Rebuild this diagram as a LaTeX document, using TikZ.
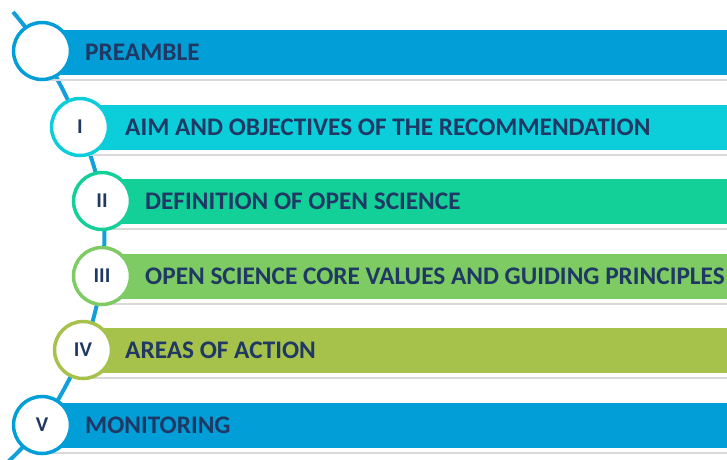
\documentclass[tikz,border=0pt]{standalone}
\usepackage{fontspec}
\setmainfont{Carlito}
\usepackage{xcolor}
\usetikzlibrary{calc,positioning}
\definecolor{bandBlue}{HTML}{019ED7}
\definecolor{bandCyan}{HTML}{0BCEDA}
\definecolor{bandTeal}{HTML}{13CF98}
\definecolor{bandGreen}{HTML}{7DCB62}
\definecolor{bandOlive}{HTML}{A6C24A}
\definecolor{spineBlue}{HTML}{129FDB}
\definecolor{navyText}{HTML}{1F3864}

\begin{document}
\begin{tikzpicture}[x=1pt, y=-1pt,
  band/.style={anchor=west, minimum width=700pt, minimum height=45pt, inner sep=0pt},
  ring/.style={circle, draw=#1, line width=3.5pt, fill=white, minimum size=57pt,
               inner sep=0pt, text=navyText, font=\bfseries\fontsize{21}{21}\selectfont},
  caption/.style={anchor=west, inner sep=0pt, text=navyText,
                  font=\bfseries\fontsize{25.3}{25.3}\selectfont},
  rule/.style={draw=gray!30, line width=2pt},
  spine/.style={draw=spineBlue, line width=4pt}]

\useasboundingbox (0,0) rectangle (727,459);
\clip (0,0) rectangle (727,459);

% ---- Centres of the rings ----
\coordinate (p0) at (42,51);
\coordinate (p1) at (80,127);
\coordinate (p2) at (102,201);
\coordinate (p3) at (102,276);
\coordinate (p4) at (83,350);
\coordinate (p5) at (42,425);
\coordinate (top) at (13,12);
\coordinate (bot) at (-7,476);

% ---- Spine behind everything ----
\draw[spine] plot[smooth, tension=0.55]
  coordinates {(top) (p0) (p1) (p2) (p3) (p4) (p5) (bot)};

% ---- Bands ----
\node[band, fill=bandBlue]  (bar0) at ($(p0)+(0,1.5)$) {};
\node[band, fill=bandCyan]  (bar1) at (p1) {};
\node[band, fill=bandTeal]  (bar2) at (p2) {};
\node[band, fill=bandGreen] (bar3) at (p3) {};
\node[band, fill=bandOlive] (bar4) at ($(p4)+(0,0.5)$) {};
\node[band, fill=bandBlue]  (bar5) at (p5) {};

% Grey rules under the bands
\draw[rule] ([yshift=-5pt]bar0.south west) -- ([yshift=-5pt]bar0.south east);
\draw[rule] ([yshift=-5pt]bar1.south west) -- ([yshift=-5pt]bar1.south east);
\draw[rule] ([yshift=-5pt]bar2.south west) -- ([yshift=-5pt]bar2.south east);
\draw[rule] ([yshift=-5pt]bar3.south west) -- ([yshift=-5pt]bar3.south east);
\draw[rule] ([yshift=-5pt]bar4.south west) -- ([yshift=-5pt]bar4.south east);
\draw[rule] ([yshift=-5pt]bar5.south west) -- ([yshift=-5pt]bar5.south east);

% ---- Rings with numerals ----
\node[ring=bandBlue]  (ring0) at (p0) {};
\node[ring=bandCyan]  (ring1) at (p1) {I};
\node[ring=bandTeal]  (ring2) at (p2) {II};
\node[ring=bandGreen] (ring3) at (p3) {III};
\node[ring=bandOlive] (ring4) at (p4) {IV};
\node[ring=bandBlue]  (ring5) at (p5) {V};

% ---- Captions ----
\node[caption] (txt0) at ($(p0)+(43,1.5)$) {PREAMBLE};
\node[caption] (txt1) at ($(p1)+(45,0)$) {AIM AND OBJECTIVES OF THE RECOMMENDATION};
\node[caption] (txt2) at ($(p2)+(43,0)$) {DEFINITION OF OPEN SCIENCE};
\node[caption] (txt3) at ($(p3)+(43,0)$) {OPEN SCIENCE CORE VALUES AND GUIDING PRINCIPLES};
\node[caption] (txt4) at ($(p4)+(42,0.5)$) {AREAS OF ACTION};
\node[caption] (txt5) at ($(p5)+(43,0)$) {MONITORING};

\end{tikzpicture}
\end{document}
